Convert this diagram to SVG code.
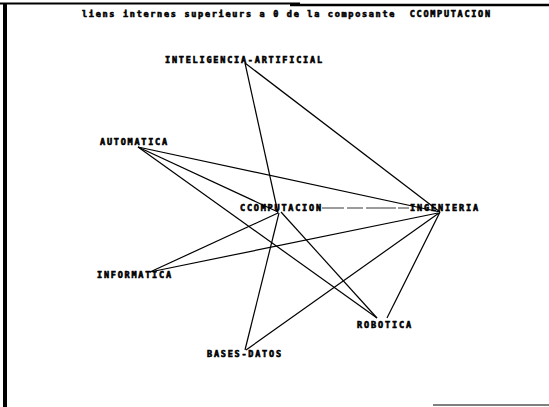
<svg xmlns="http://www.w3.org/2000/svg" width="549" height="407" viewBox="0 0 549 407">
<style>
.lbl{font-family:"DejaVu Sans Mono","Liberation Mono",monospace;font-weight:bold;font-size:8.5px;fill:#000;stroke:#000;stroke-width:0.6}
.edge{stroke:#000;stroke-width:1.2;fill:none}
.thin{stroke:#222;stroke-width:0.9;fill:none;stroke-dasharray:22 3 16 3 30 2}
.frame{stroke:#000;fill:none}
</style>
<rect width="549" height="407" fill="#fff"/>
<g id="frame">
<line class="frame" x1="0" y1="3.5" x2="300" y2="3.5" stroke-width="2.2"/>
<line class="frame" x1="290" y1="5" x2="549" y2="5" stroke-width="2.6"/>
<line class="frame" x1="5" y1="4" x2="5" y2="407" stroke-width="4"/>
<line class="frame" x1="433" y1="405" x2="549" y2="405" stroke-width="1" stroke="#999"/>
</g>
<text id="title" class="lbl" x="82" y="17" textLength="408" lengthAdjust="spacing" xml:space="preserve">liens internes superieurs a 0 de la composante  CCOMPUTACION</text>
<g id="connectors">
<line class="edge" x1="245" y1="63" x2="278" y2="213"/>
<line class="edge" x1="245" y1="63" x2="440" y2="212"/>
<line class="edge" x1="138" y1="147" x2="440" y2="212"/>
<line class="edge" x1="138" y1="147" x2="278" y2="212"/>
<line class="edge" x1="138" y1="147" x2="377" y2="318"/>
<line class="thin" x1="322" y1="208" x2="409" y2="208"/>
<line class="edge" x1="278" y1="213" x2="150" y2="272"/>
<line class="edge" x1="279" y1="213" x2="245" y2="350"/>
<line class="edge" x1="281" y1="212" x2="377" y2="318"/>
<line class="edge" x1="150" y1="272" x2="438" y2="213"/>
<line class="edge" x1="246" y1="350" x2="439" y2="213"/>
<line class="edge" x1="387" y1="318" x2="440" y2="212"/>
</g>
<g id="n-ia"><text class="lbl" x="165" y="63" textLength="157" lengthAdjust="spacing">INTELIGENCIA-ARTIFICIAL</text></g>
<g id="n-aut"><text class="lbl" x="100" y="145" textLength="67" lengthAdjust="spacing">AUTOMATICA</text></g>
<g id="n-comp"><text class="lbl" x="240" y="211" textLength="81" lengthAdjust="spacing">CCOMPUTACION</text></g>
<g id="n-ing"><text class="lbl" x="410" y="211" textLength="68" lengthAdjust="spacing">INGENIERIA</text></g>
<g id="n-inf"><text class="lbl" x="97" y="278" textLength="74" lengthAdjust="spacing">INFORMATICA</text></g>
<g id="n-rob"><text class="lbl" x="357" y="328" textLength="54" lengthAdjust="spacing">ROBOTICA</text></g>
<g id="n-bd"><text class="lbl" x="207" y="357" textLength="74" lengthAdjust="spacing">BASES-DATOS</text></g>
</svg>
